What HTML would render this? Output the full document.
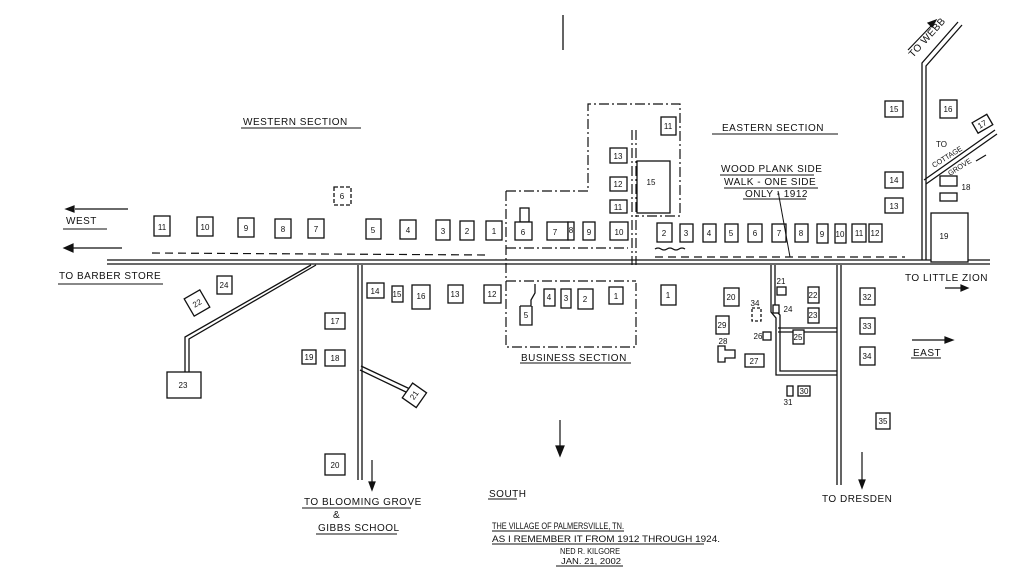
<!DOCTYPE html>
<html><head><meta charset="utf-8"><style>
html,body{margin:0;padding:0;background:#fff;}
svg{display:block;}
text{font-family:"Liberation Sans",sans-serif;fill:#111;}
.b{fill:#fff;stroke:#111;stroke-width:1.3;}
.n{font-size:8px;text-anchor:middle;}
.l{font-size:10px;letter-spacing:0.5px;}
.r{fill:none;stroke:#111;stroke-width:1.3;}
.dd{fill:none;stroke:#111;stroke-width:1.2;stroke-dasharray:10 3 2 3;}
.da{fill:none;stroke:#111;stroke-width:1.2;stroke-dasharray:8 5;}
</style></head><body>
<svg width="1023" height="583" viewBox="0 0 1023 583" xmlns="http://www.w3.org/2000/svg">
<rect width="1023" height="583" fill="#fff"/>
<line x1="563" y1="15" x2="563" y2="50" class="r"/>
<line x1="107" y1="260" x2="990" y2="260" class="r"/>
<line x1="107" y1="264" x2="990" y2="264" class="r"/>
<line x1="152" y1="253" x2="490" y2="255" class="da"/>
<line x1="655" y1="257" x2="905" y2="257" class="da"/>
<path d="M655 249 q3 -2 6 0 t6 0 t6 0 t6 0 t6 0" class="r" stroke-width="0.8"/>
<path d="M358 265 V480 M362 265 V480" class="r"/>
<path d="M311 265 L185 337 V372 M316 265 L189 339 V372" class="r"/>
<path d="M360 370 L408 393 M361 366 L410 389" class="r"/>
<path d="M837 265 V485 M841 265 V485" class="r"/>
<path d="M771 265 V312 L776 318 V375 L837 375 M775 265 V310 L780 315 V371 L837 371" class="r"/>
<path d="M778 328 H837 M778 332 H837" class="r"/>
<path d="M922 260 V63 L958 22 M926 260 V66 L962 25" class="r"/>
<path d="M924 180 L995 130 M926 184 L997 134" class="r"/>
<path d="M506 191 H588 V104 H680 V216 H636" class="dd"/>
<path d="M632 130 V265 M636 130 V265" class="dd"/>
<path d="M506 191 V347 H636 V283" class="dd"/>
<path d="M506 281 H636" class="dd"/>
<path d="M506 248 H628" class="dd"/>

<g>
<rect class="b" x="154" y="216" width="16" height="20"/><text class="n" x="162" y="230">11</text>
<rect class="b" x="197" y="217" width="16" height="19"/><text class="n" x="205" y="230">10</text>
<rect class="b" x="238" y="218" width="16" height="19"/><text class="n" x="246" y="231">9</text>
<rect class="b" x="275" y="219" width="16" height="19"/><text class="n" x="283" y="232">8</text>
<rect class="b" x="308" y="219" width="16" height="19"/><text class="n" x="316" y="232">7</text>
<rect class="b" x="366" y="219" width="15" height="20"/><text class="n" x="373" y="233">5</text>
<rect class="b" x="400" y="220" width="16" height="19"/><text class="n" x="408" y="233">4</text>
<rect class="b" x="436" y="220" width="14" height="20"/><text class="n" x="443" y="234">3</text>
<rect class="b" x="460" y="221" width="14" height="19"/><text class="n" x="467" y="234">2</text>
<rect class="b" x="486" y="221" width="16" height="19"/><text class="n" x="494" y="234">1</text>
<rect class="b" x="334" y="187" width="17" height="18" stroke-dasharray="4 2"/><text class="n" x="342" y="199">6</text>
</g>
<g>
<rect class="b" x="367" y="283" width="17" height="15"/><text class="n" x="375" y="294">14</text>
<rect class="b" x="392" y="286" width="11" height="16"/><text class="n" x="397" y="297">15</text>
<rect class="b" x="412" y="285" width="18" height="24"/><text class="n" x="421" y="299">16</text>
<rect class="b" x="448" y="285" width="15" height="18"/><text class="n" x="455" y="297">13</text>
<rect class="b" x="484" y="285" width="17" height="18"/><text class="n" x="492" y="297">12</text>
<rect class="b" x="217" y="276" width="15" height="18"/><text class="n" x="224" y="288">24</text>
<rect class="b" x="188" y="293" width="18" height="20" transform="rotate(-30 197 303)"/><text class="n" x="197" y="306" transform="rotate(-30 197 303)">22</text>
<rect class="b" x="167" y="372" width="34" height="26"/><text class="n" x="183" y="388">23</text>
<rect class="b" x="325" y="313" width="20" height="16"/><text class="n" x="335" y="324">17</text>
<rect class="b" x="302" y="350" width="14" height="14"/><text class="n" x="309" y="360">19</text>
<rect class="b" x="325" y="350" width="20" height="16"/><text class="n" x="335" y="361">18</text>
<rect class="b" x="325" y="454" width="20" height="21"/><text class="n" x="335" y="468">20</text>
<rect class="b" x="405" y="387" width="18" height="17" transform="rotate(-55 414 395)"/><text class="n" x="414" y="398" transform="rotate(-55 414 395)">21</text>
</g>
<g>
<rect class="b" x="520" y="208" width="9" height="14"/>
<rect class="b" x="515" y="222" width="17" height="18"/><text class="n" x="523" y="235">6</text>
<rect class="b" x="547" y="222" width="21" height="18"/><text class="n" x="555" y="235">7</text>
<rect class="b" x="568" y="222" width="6" height="18"/><text class="n" x="571" y="233" font-size="6">8</text>
<rect class="b" x="583" y="222" width="12" height="18"/><text class="n" x="589" y="235">9</text>
<rect class="b" x="610" y="222" width="18" height="18"/><text class="n" x="619" y="235">10</text>
<rect class="b" x="610" y="200" width="17" height="13"/><text class="n" x="618" y="210">11</text>
<rect class="b" x="610" y="177" width="17" height="14"/><text class="n" x="618" y="187">12</text>
<rect class="b" x="610" y="148" width="17" height="15"/><text class="n" x="618" y="159">13</text>
<rect class="b" x="637" y="161" width="33" height="52"/><text class="n" x="651" y="185">15</text>
<rect class="b" x="661" y="117" width="15" height="18"/><text class="n" x="668" y="129">11</text>
<rect class="b" x="544" y="289" width="11" height="17"/><text class="n" x="549" y="300">4</text>
<rect class="b" x="561" y="289" width="10" height="19"/><text class="n" x="566" y="301">3</text>
<rect class="b" x="578" y="289" width="15" height="20"/><text class="n" x="585" y="302">2</text>
<rect class="b" x="609" y="287" width="14" height="17"/><text class="n" x="616" y="299">1</text>
<path class="b" d="M520 306 H531 V300 L535 293 V284 M520 306 V325 H532 V306"/><text class="n" x="526" y="318">5</text>
<rect class="b" x="661" y="285" width="15" height="20"/><text class="n" x="668" y="298">1</text>
</g>
<g>
<rect class="b" x="657" y="223" width="15" height="19"/><text class="n" x="664" y="236">2</text>
<rect class="b" x="680" y="224" width="13" height="18"/><text class="n" x="686" y="236">3</text>
<rect class="b" x="703" y="224" width="13" height="18"/><text class="n" x="709" y="236">4</text>
<rect class="b" x="725" y="224" width="13" height="18"/><text class="n" x="731" y="236">5</text>
<rect class="b" x="748" y="224" width="14" height="18"/><text class="n" x="755" y="236">6</text>
<rect class="b" x="772" y="224" width="14" height="18"/><text class="n" x="779" y="236">7</text>
<rect class="b" x="795" y="224" width="13" height="18"/><text class="n" x="801" y="236">8</text>
<rect class="b" x="817" y="224" width="11" height="19"/><text class="n" x="822" y="237">9</text>
<rect class="b" x="835" y="224" width="11" height="19"/><text class="n" x="840" y="237" font-size="6">10</text>
<rect class="b" x="852" y="224" width="14" height="18"/><text class="n" x="859" y="236">11</text>
<rect class="b" x="869" y="224" width="13" height="18"/><text class="n" x="875" y="236">12</text>
<rect class="b" x="885" y="101" width="18" height="16"/><text class="n" x="894" y="112">15</text>
<rect class="b" x="940" y="100" width="17" height="18"/><text class="n" x="948" y="112">16</text>
<rect class="b" x="885" y="172" width="18" height="16"/><text class="n" x="894" y="183">14</text>
<rect class="b" x="885" y="198" width="18" height="15"/><text class="n" x="894" y="209">13</text>
<rect class="b" x="940" y="176" width="17" height="10"/>
<rect class="b" x="940" y="193" width="17" height="8"/><text class="n" x="966" y="190">18</text>
<rect class="b" x="931" y="213" width="37" height="49"/><text class="n" x="944" y="239">19</text>
<rect class="b" x="974" y="118" width="17" height="12" transform="rotate(-30 982 124)"/><text class="n" x="982" y="127" transform="rotate(-30 982 124)">17</text>
</g>
<g>
<rect class="b" x="724" y="288" width="15" height="18"/><text class="n" x="731" y="300">20</text>
<rect class="b" x="716" y="316" width="13" height="18"/><text class="n" x="722" y="328">29</text>
<rect class="b" x="752" y="308" width="9" height="13" stroke-dasharray="3 2"/><text class="n" x="755" y="306" font-size="7">34</text>
<rect class="b" x="777" y="287" width="9" height="8"/><text class="n" x="781" y="284" font-size="7">21</text>
<rect class="b" x="773" y="305" width="6" height="8"/><text class="n" x="788" y="312" font-size="7">24</text>
<rect class="b" x="808" y="287" width="11" height="16"/><text class="n" x="813" y="298" font-size="7">22</text>
<rect class="b" x="808" y="308" width="11" height="15"/><text class="n" x="813" y="318" font-size="7">23</text>
<rect class="b" x="793" y="330" width="11" height="14"/><text class="n" x="798" y="340" font-size="7">25</text>
<rect class="b" x="763" y="332" width="8" height="8"/><text class="n" x="758" y="339" font-size="7">26</text>
<path class="b" d="M718 346 H725 V350 H735 V358 H725 V362 H718 Z"/><text class="n" x="723" y="344" font-size="7">28</text>
<rect class="b" x="745" y="354" width="19" height="13"/><text class="n" x="754" y="364">27</text>
<rect class="b" x="787" y="386" width="6" height="10"/><text class="n" x="788" y="405" font-size="7">31</text>
<rect class="b" x="798" y="386" width="12" height="10"/><text class="n" x="804" y="394" font-size="7">30</text>
<rect class="b" x="860" y="288" width="15" height="17"/><text class="n" x="867" y="300">32</text>
<rect class="b" x="860" y="318" width="15" height="16"/><text class="n" x="867" y="329">33</text>
<rect class="b" x="860" y="347" width="15" height="18"/><text class="n" x="867" y="359">34</text>
<rect class="b" x="876" y="413" width="14" height="16"/><text class="n" x="883" y="424">35</text>
</g>
<g stroke="#111" stroke-width="1.2" fill="#111">
<line x1="75" y1="209" x2="128" y2="209"/><path d="M66 209 l8 -3 v6z"/>
<line x1="72" y1="248" x2="122" y2="248"/><path d="M64 248 l9 -4 v8z"/>
<line x1="945" y1="288" x2="962" y2="288"/><path d="M968 288 l-7 -3 v6z"/>
<line x1="912" y1="340" x2="945" y2="340"/><path d="M953 340 l-8 -3 v6z"/>
<line x1="372" y1="460" x2="372" y2="483"/><path d="M372 490 l-3 -8 h6z"/>
<line x1="560" y1="420" x2="560" y2="448"/><path d="M560 456 l-4 -10 h8z"/>
<line x1="862" y1="452" x2="862" y2="480"/><path d="M862 488 l-3 -8 h6z"/>
<line x1="908" y1="50" x2="932" y2="25"/><path d="M936 20 l-8 3 l4 4z"/>
<line x1="976" y1="161" x2="986" y2="155"/>
</g>
<line x1="778" y1="191" x2="790" y2="257" stroke="#111" stroke-width="1"/>
<text class="l" x="243" y="125">WESTERN SECTION</text>
<line x1="241" y1="128" x2="361" y2="128" stroke="#111"/>
<text class="l" x="722" y="131" font-size="12">EASTERN SECTION</text>
<line x1="712" y1="134" x2="838" y2="134" stroke="#111"/>
<text class="l" x="721" y="172">WOOD PLANK SIDE</text>
<line x1="720" y1="175" x2="814" y2="175" stroke="#111"/>
<text class="l" x="724" y="185">WALK - ONE SIDE</text>
<line x1="724" y1="188" x2="818" y2="188" stroke="#111"/>
<text class="l" x="745" y="197">ONLY - 1912</text>
<line x1="743" y1="199" x2="806" y2="199" stroke="#111"/>
<text class="l" x="66" y="224">WEST</text>
<line x1="63" y1="229" x2="107" y2="229" stroke="#111"/>
<text class="l" x="59" y="279" font-size="9">TO BARBER STORE</text>
<line x1="58" y1="284" x2="163" y2="284" stroke="#111"/>
<text class="l" x="905" y="281" font-size="9">TO LITTLE ZION</text>
<text class="l" x="913" y="356">EAST</text>
<line x1="911" y1="358" x2="941" y2="358" stroke="#111"/>
<text class="l" x="521" y="361" font-size="9">BUSINESS SECTION</text>
<line x1="520" y1="363" x2="631" y2="363" stroke="#111"/>
<text class="l" x="304" y="505" font-size="9">TO BLOOMING GROVE</text>
<line x1="302" y1="508" x2="411" y2="508" stroke="#111"/>
<text class="l" x="333" y="518" font-size="8">&amp;</text>
<text class="l" x="318" y="531" font-size="9">GIBBS SCHOOL</text>
<line x1="316" y1="534" x2="397" y2="534" stroke="#111"/>
<text class="l" x="489" y="497" font-size="8">SOUTH</text>
<line x1="488" y1="499" x2="517" y2="499" stroke="#111"/>
<text class="l" x="822" y="502" font-size="8">TO DRESDEN</text>
<text x="492" y="529" font-size="9" textLength="132" lengthAdjust="spacingAndGlyphs">THE VILLAGE OF PALMERSVILLE, TN.</text>
<line x1="492" y1="531" x2="624" y2="531" stroke="#111"/>
<text x="492" y="542" font-size="9" textLength="228" lengthAdjust="spacingAndGlyphs">AS I REMEMBER IT FROM 1912 THROUGH 1924.</text>
<line x1="492" y1="544" x2="704" y2="544" stroke="#111"/>
<text x="560" y="554" font-size="8" textLength="60" lengthAdjust="spacingAndGlyphs">NED R. KILGORE</text>
<text x="561" y="564" font-size="8" textLength="60" lengthAdjust="spacingAndGlyphs">JAN. 21, 2002</text>
<line x1="556" y1="566" x2="623" y2="566" stroke="#111"/>
<text class="l" x="913" y="58" font-size="8" transform="rotate(-48 913 58)">TO WEBB</text>
<text x="936" y="147" font-size="8">TO</text>
<text x="934" y="168" font-size="7.5" textLength="34" lengthAdjust="spacingAndGlyphs" transform="rotate(-32 934 168)">COTTAGE</text>
<text x="950" y="176" font-size="7.5" textLength="26" lengthAdjust="spacingAndGlyphs" transform="rotate(-32 950 176)">GROVE</text>
</svg>
</body></html>
